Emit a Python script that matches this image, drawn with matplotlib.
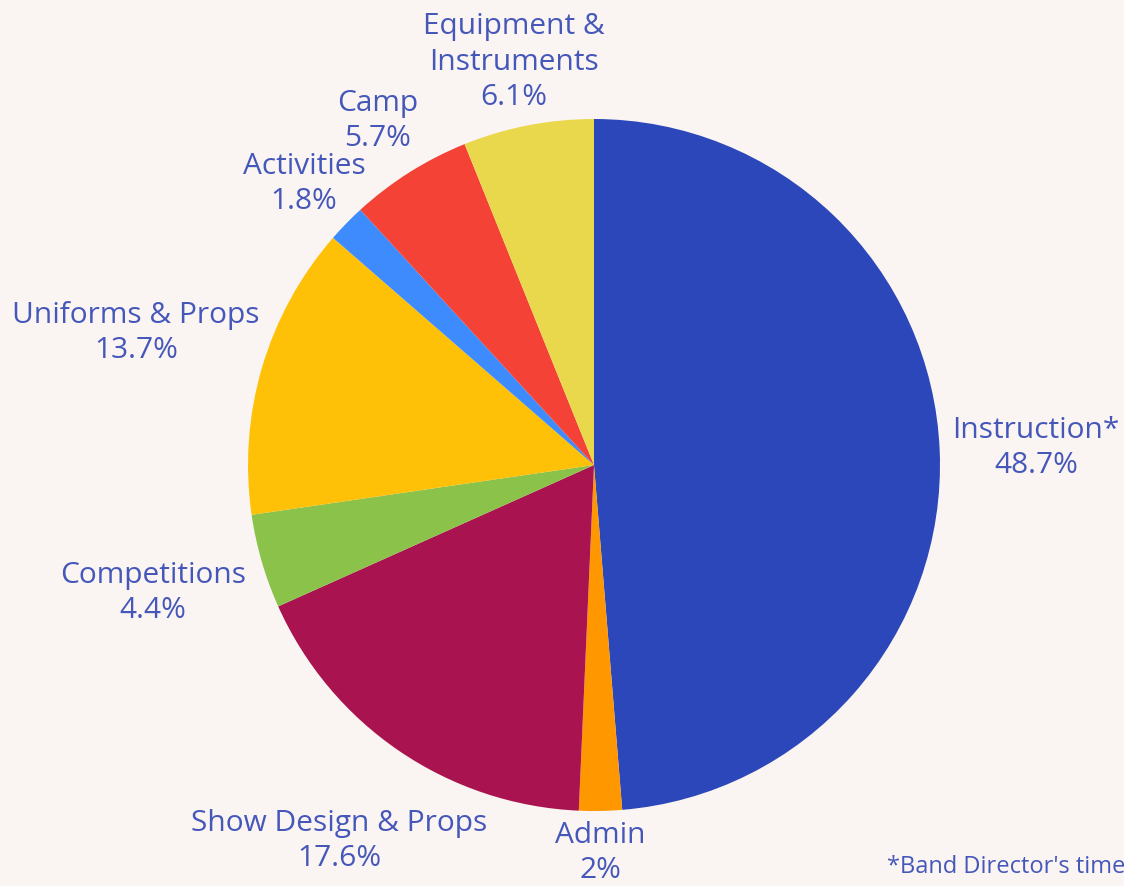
import matplotlib.pyplot as plt

plt.rcParams['font.family'] = ['Open Sans', 'DejaVu Sans']

# Budget share by category (percent), clockwise from 12 o'clock
categories = ["Instruction*", "Admin", "Show Design & Props", "Competitions",
              "Uniforms & Props", "Activities", "Camp", "Equipment &\nInstruments"]
shares = [48.7, 2, 17.6, 4.4, 13.7, 1.8, 5.7, 6.1]
share_labels = ["48.7%", "2%", "17.6%", "4.4%", "13.7%", "1.8%", "5.7%", "6.1%"]
colors = ["#2C47BA", "#FF9800", "#A9134F", "#8BC34A",
          "#FFC107", "#3D8BFD", "#F44336", "#E9D84B"]

# label anchor points (pixels from top-left of the picture)
label_pos = [(1036, 448), (600, 853), (339, 841), (153, 593),
             (136, 333), (304, 184), (378, 121), (514, 62)]

bg = "#FAF5F2"
txt = "#4657BA"

W, H = 1124, 886
fig = plt.figure(figsize=(W / 100, H / 100), dpi=100, facecolor=bg)
ax = fig.add_axes([0, 0, 1, 1])
ax.set_facecolor(bg)

ax.pie(shares, colors=colors, startangle=90, counterclock=False,
       center=(594, H - 465), radius=346, frame=True,
       wedgeprops=dict(linewidth=0))
ax.set_xlim(0, W)
ax.set_ylim(0, H)
ax.set_aspect('equal')
ax.axis('off')

for name, pct, (x, y) in zip(categories, share_labels, label_pos):
    ax.text(x, H - y, name + "\n" + pct, ha='center', va='center',
            fontsize=21.5, color=txt, linespacing=1.3)

# footnote runs off the right edge, as in the source
ax.text(887, H - 867, "*Band Director's time reflected in Instruction",
        ha='left', va='center', fontsize=17, color=txt)

fig.savefig("out.png", dpi=100, facecolor=bg)
